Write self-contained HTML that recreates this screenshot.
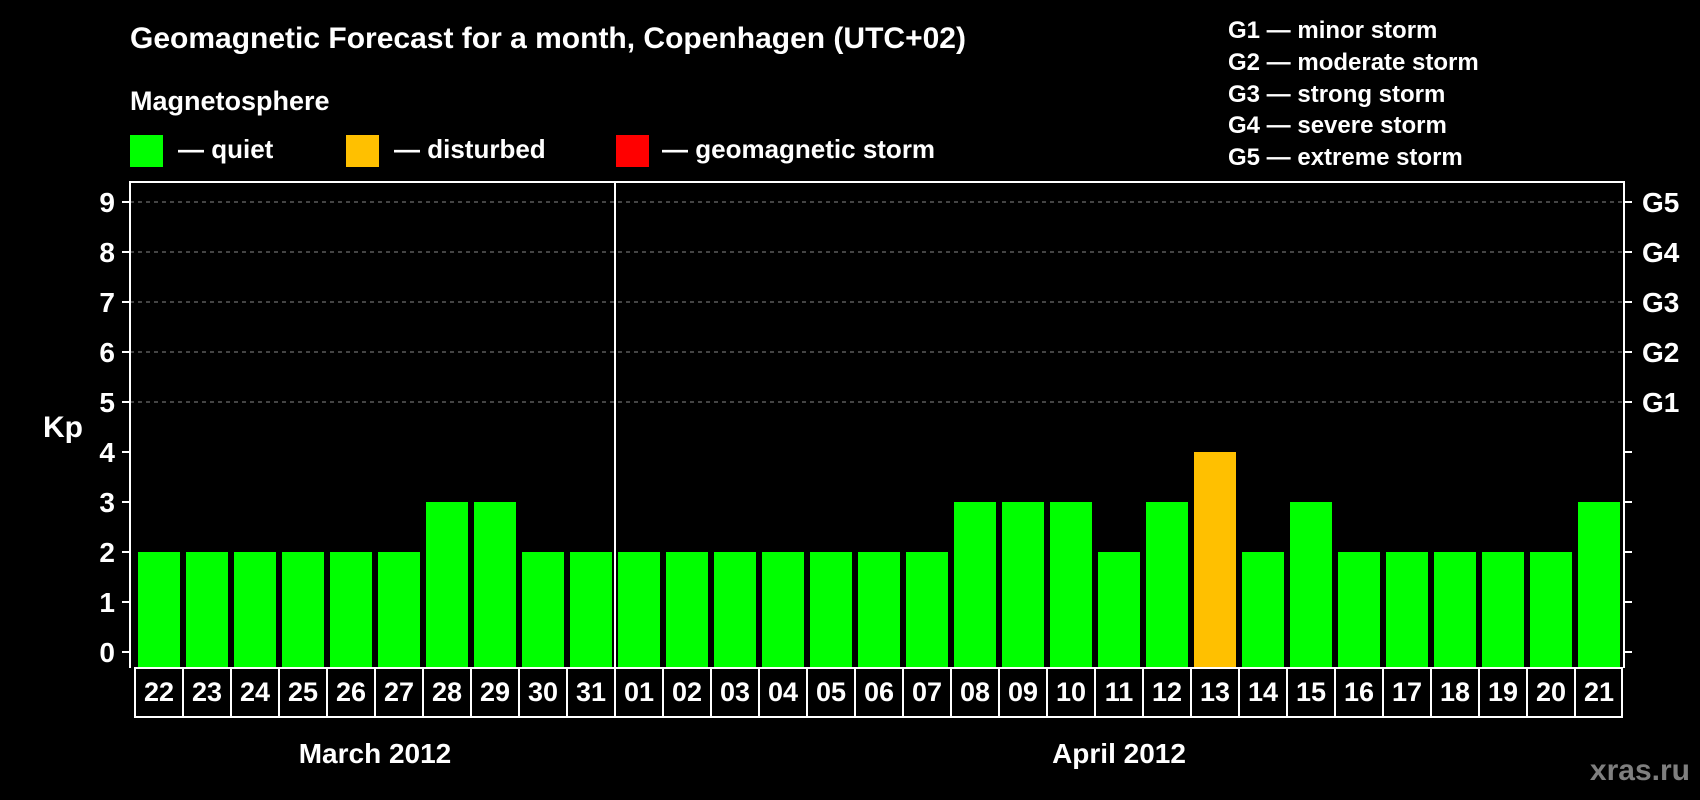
<!DOCTYPE html>
<html><head><meta charset="utf-8"><style>
html,body{margin:0;padding:0;background:#000;}
svg{display:block;font-family:"Liberation Sans",Arial,sans-serif;font-weight:bold;}
</style></head><body>
<svg id="chart" width="1700" height="800" viewBox="0 0 1700 800">
<rect width="1700" height="800" fill="#000"/>
<text x="130" y="48" fill="#fff" font-size="30">Geomagnetic Forecast for a month, Copenhagen (UTC+02)</text>
<text x="130" y="110" fill="#fff" font-size="27">Magnetosphere</text>
<g>
<rect x="130" y="135" width="33" height="32" fill="#00ff00"/>
<text x="178" y="158" fill="#fff" font-size="26">— quiet</text></g>
<g>
<rect x="346" y="135" width="33" height="32" fill="#ffc000"/>
<text x="394" y="158" fill="#fff" font-size="26">— disturbed</text></g>
<g>
<rect x="616" y="135" width="33" height="32" fill="#ff0000"/>
<text x="662" y="158" fill="#fff" font-size="26">— geomagnetic storm</text></g>
<g font-size="24" fill="#fff">
<text x="1228" y="38">G1 — minor storm</text>
<text x="1228" y="70">G2 — moderate storm</text>
<text x="1228" y="102">G3 — strong storm</text>
<text x="1228" y="133">G4 — severe storm</text>
<text x="1228" y="165">G5 — extreme storm</text>
</g>
<text x="43" y="437" fill="#fff" font-size="30">Kp</text>
<text x="375" y="763" fill="#fff" font-size="28" text-anchor="middle">March 2012</text>
<text x="1119" y="763" fill="#fff" font-size="28" text-anchor="middle">April 2012</text>
<text x="1690" y="780" fill="#7f7f7f" font-size="30" text-anchor="end">xras.ru</text>
<g id="grid"></g><g id="bars"></g><g id="axes"></g><g id="days"></g>
</svg>
<script>
const days = ["22","23","24","25","26","27","28","29","30","31","01","02","03","04","05","06","07","08","09","10","11","12","13","14","15","16","17","18","19","20","21"];
const kpValues = [2,2,2,2,2,2,3,3,2,2,2,2,2,2,2,2,2,3,3,3,2,3,4,2,3,2,2,2,2,2,3];
const yTicks = [0,1,2,3,4,5,6,7,8,9];
const gLabels = ["G1","G2","G3","G4","G5"];
const gLevels = [5,6,7,8,9];
const monthSplitIndex = 10;

const NS = "http://www.w3.org/2000/svg";
const L = 135, CW = 48, PL = 130, PR = 1624, PT = 182, PB = 668;
const y = v => 652 - 50 * v;
const x = i => L + i * CW;
function mk(tag, attrs, parent, txt){const e=document.createElementNS(NS,tag);for(const k in attrs)e.setAttribute(k,attrs[k]);if(txt!==undefined)e.textContent=txt;parent.appendChild(e);return e;}
const grid=document.getElementById('grid'), bars=document.getElementById('bars'), axes=document.getElementById('axes'), dayG=document.getElementById('days');
function color(v){return v>=5?"#ff0000":(v>=4?"#ffc000":"#00ff00");}

gLevels.forEach((lv,i)=>{
  const g=mk('line',{x1:PL,x2:PR,y1:y(lv),y2:y(lv),stroke:"#888","stroke-width":1,"stroke-dasharray":"4,4"},grid);
  
  
  const t=mk('text',{x:1642,y:y(lv)+10,fill:"#fff","font-size":28},axes,gLabels[i]);
  
  
});
kpValues.forEach((v,i)=>{
  const r=mk('rect',{x:x(i)+3,y:y(v),width:42,height:PB-y(v),fill:color(v)},bars);
  
  
});
yTicks.forEach(v=>{
  const t=mk('text',{x:115,y:y(v)+10,fill:"#fff","font-size":28,"text-anchor":"end"},axes,String(v));
  
  
  const a=mk('line',{x1:122,x2:PL,y1:y(v),y2:y(v),stroke:"#fff","stroke-width":2},axes);
  
  
  const b=mk('line',{x1:PR,x2:1632,y1:y(v),y2:y(v),stroke:"#fff","stroke-width":2},axes);
  
  
});
const frame=mk('path',{d:`M${PL} ${PB} V${PT} H${PR} V${PB}`,fill:"none",stroke:"#fff","stroke-width":2},axes);


const sep=mk('line',{x1:x(monthSplitIndex),x2:x(monthSplitIndex),y1:PT,y2:PB,stroke:"#fff","stroke-width":2},axes);


const box=mk('rect',{x:L,y:PB,width:CW*days.length-1,height:49,fill:"none",stroke:"#fff","stroke-width":2},dayG);


days.forEach((d,i)=>{
  if(i>0){const l=mk('line',{x1:x(i),x2:x(i),y1:PB,y2:PB+49,stroke:"#fff","stroke-width":2},dayG);
  
  }
  const t=mk('text',{x:x(i)+CW/2,y:701,fill:"#fff","font-size":27,"text-anchor":"middle"},dayG,d);
  
  
});
</script>
</body></html>
